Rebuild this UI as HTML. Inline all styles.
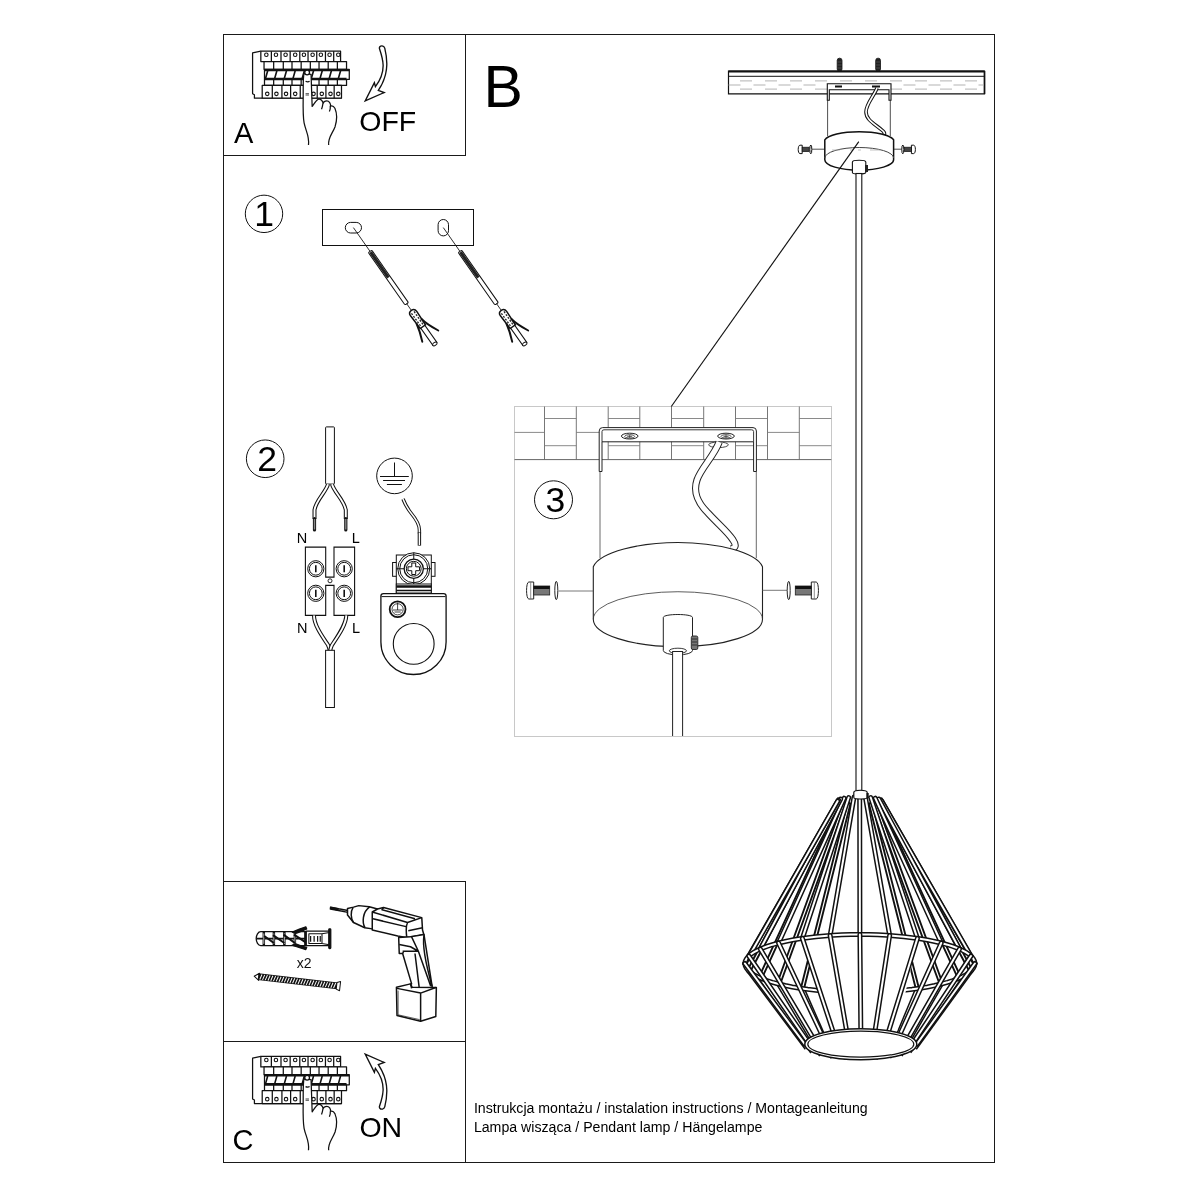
<!DOCTYPE html>
<html><head><meta charset="utf-8"><style>
html,body{margin:0;padding:0;background:#fff;}
svg{display:block;will-change:transform;}
</style></head><body>
<svg width="1200" height="1200" viewBox="0 0 1200 1200">
<g stroke="#1a1a1a" stroke-width="1" fill="none" shape-rendering="crispEdges">
<rect x="223.5" y="34.5" width="771" height="1128"/>
<path d="M223.5 155.5H465.5V34.5"/>
<path d="M223.5 881H465.5V1162"/>
<path d="M223.5 1041.5H465.5"/>
</g>
<g fill="#000" style="font-family:'Liberation Sans',sans-serif">
<text x="234.1" y="142.8" font-size="29">A</text>
<text x="359.3" y="130.9" font-size="28.5">OFF</text>
<text x="483.4" y="106.8" font-size="59">B</text>
<text x="232.5" y="1149.8" font-size="29">C</text>
<text x="359.4" y="1137" font-size="28.5">ON</text>
<text x="254.2" y="225.8" font-size="35.5">1</text>
<text x="257.2" y="470.6" font-size="35.5">2</text>
<text x="545.4" y="512.2" font-size="35.5">3</text>
<text x="296.7" y="543" font-size="14.5">N</text>
<text x="351.8" y="543" font-size="14.5">L</text>
<text x="297.1" y="633.3" font-size="14.5">N</text>
<text x="352.1" y="633.3" font-size="14.5">L</text>
<text x="473.9" y="1112.9" font-size="14.15">Instrukcja montażu / instalation instructions / Montageanleitung</text>
<text x="473.9" y="1131.5" font-size="14.15">Lampa wisząca / Pendant lamp / Hängelampe</text>
</g>
<g stroke="#111" stroke-width="1" fill="none">
<circle cx="264" cy="213.85" r="18.7"/>
<circle cx="265.2" cy="458.75" r="18.8"/>
<circle cx="553.5" cy="499.8" r="19"/>
</g>
<g id="brk" transform="translate(248,46) scale(0.09166)" fill="none" stroke="#111" stroke-width="13.64" stroke-linejoin="round">
<path d="M140 56 L50 75 V520 L70 532 V570 H1020" fill="#fff"/>
<rect x="140" y="56" width="870" height="114" fill="#fff"/>
<path d="M255 56V170 M360 56V170 M460 56V170 M565 56V170 M655 56V170 M750 56V170 M845 56V170 M935 56V170"/>
<circle cx="200" cy="95" r="19" stroke-width="12.0"/>
<circle cx="305" cy="95" r="19" stroke-width="12.0"/>
<circle cx="410" cy="95" r="19" stroke-width="12.0"/>
<circle cx="515" cy="95" r="19" stroke-width="12.0"/>
<circle cx="610" cy="95" r="19" stroke-width="12.0"/>
<circle cx="705" cy="95" r="19" stroke-width="12.0"/>
<circle cx="795" cy="95" r="19" stroke-width="12.0"/>
<circle cx="890" cy="95" r="19" stroke-width="12.0"/>
<circle cx="985" cy="95" r="19" stroke-width="12.0"/>
<rect x="175" y="170" width="900" height="85" fill="#fff"/>
<path d="M280 170V255 M385 170V255 M480 170V255 M580 170V255 M680 170V255 M775 170V255 M875 170V255 M975 170V255"/>
<rect x="180" y="255" width="925" height="110" fill="#fff"/>
<path d="M180 265H1105" stroke-width="21.8"/>
<path d="M190 358 L215 270 M290 358 L315 270 M395 358 L420 270 M490 358 L515 270 M590 358 L615 270 M690 358 L715 270 M785 358 L810 270 M885 358 L910 270 M985 358 L1010 270" stroke-width="17.5"/>
<path d="M180 362H1075" stroke-width="32.7"/>
<rect x="180" y="368" width="895" height="62" fill="#fff"/>
<path d="M280 368V430 M385 368V430 M480 368V430 M580 368V430 M680 368V430 M775 368V430 M875 368V430 M975 368V430"/>
<rect x="155" y="430" width="865" height="140" fill="#fff"/>
<path d="M265 430V570 M370 430V570 M465 430V570 M570 430V570 M660 430V570 M755 430V570 M850 430V570 M940 430V570"/>
<circle cx="210" cy="522" r="19" stroke-width="12.0"/>
<circle cx="310" cy="522" r="19" stroke-width="12.0"/>
<circle cx="415" cy="522" r="19" stroke-width="12.0"/>
<circle cx="515" cy="522" r="19" stroke-width="12.0"/>
<circle cx="715" cy="522" r="19" stroke-width="12.0"/>
<circle cx="805" cy="522" r="19" stroke-width="12.0"/>
<circle cx="900" cy="522" r="19" stroke-width="12.0"/>
<circle cx="985" cy="522" r="19" stroke-width="12.0"/>
<path d="M660 1080 C672 980 630 930 612 840 C600 780 600 700 602 560 C603 420 600 330 612 300 L688 310 L700 660 C735 610 750 585 770 580 C795 575 815 600 820 625 C825 610 840 600 860 600 C885 600 905 630 900 655 C915 650 935 655 948 680 C965 720 975 800 950 880 C920 960 870 1000 880 1080 Z" fill="#fff" stroke="none"/>
<path d="M660 1080 C672 980 630 930 612 840 C600 780 600 700 602 560 C603 420 600 330 612 300 L688 310 L700 660 C735 610 750 585 770 580 C795 575 815 600 820 625 C825 610 840 600 860 600 C885 600 905 630 900 655 C915 650 935 655 948 680 C965 720 975 800 950 880 C920 960 870 1000 880 1080"/>
<path d="M818 625 C814 650 810 670 802 690 M898 655 C900 680 895 700 888 715"/>
<path d="M628 385 C645 393 660 393 672 385"/>
<path d="M628 520 H665 M628 535 H665" stroke-width="8"/>
<circle cx="645" cy="288" r="26" fill="#fff" stroke-width="14.2"/>
</g>
<use href="#brk" transform="translate(0,1005.3)"/>

<g transform="translate(355,40) scale(0.05834)" fill="#fff" stroke="#111" stroke-width="23.1" stroke-linejoin="miter"><path d="M460 100 C430 100 412 125 420 150 C450 240 480 330 482 430 C485 560 440 680 350 800 L332 730 L175 1045 L500 900 L400 865 C470 760 540 620 545 430 C548 300 530 220 510 140 C502 112 485 100 460 100 Z"/></g>
<g transform="translate(355,1115) scale(0.05834,-0.05834)" fill="#fff" stroke="#111" stroke-width="23.1" stroke-linejoin="miter"><path d="M460 100 C430 100 412 125 420 150 C450 240 480 330 482 430 C485 560 440 680 350 800 L332 730 L175 1045 L500 900 L400 865 C470 760 540 620 545 430 C548 300 530 220 510 140 C502 112 485 100 460 100 Z"/></g>

<g fill="none" stroke="#111" stroke-width="1">
<rect x="322.5" y="209.5" width="151" height="36"/>
<rect x="345.3" y="222.4" width="16.2" height="10.6" rx="5.3"/>
<rect x="438.1" y="219.5" width="10.4" height="16.4" rx="5.2"/>
</g>
<g transform="translate(353.4,227.6) rotate(55.00)" stroke="#111" fill="#fff">
<path d="M0 0H29" stroke-width="0.8"/>
<rect x="29" y="-2.1" width="64" height="4.2" rx="1.2" stroke-width="1"/>
<rect x="30" y="-1.6" width="31" height="3.2" fill="#222" stroke="none"/>
<path d="M93 0H100.5" stroke-width="0.8"/>
<rect x="120" y="-2.5" width="22" height="5" stroke-width="1.1"/>
<ellipse cx="142" cy="0" rx="1.5" ry="2.5" stroke-width="1"/>
<path d="M101 0 Q101 -3.8 105 -3.8 L121 -3.2 L121 3.2 L105 3.8 Q101 3.8 101 0 Z" fill="#fff" stroke-width="1.5"/>
<path d="M103.5 -1.6 L120 -1.4 M103.5 1.6 L120 1.4" stroke="#222" stroke-width="1.3" stroke-dasharray="2 1.4"/>
<path d="M114 -3.4 C121 -4.5 127 -7.5 133 -10.5 M115 3.4 C121 4.5 127 6.5 133 9" stroke-width="1.9" fill="none" stroke-linecap="round"/>
</g>
<g transform="translate(443.3,227.6) rotate(55.00)" stroke="#111" fill="#fff">
<path d="M0 0H29" stroke-width="0.8"/>
<rect x="29" y="-2.1" width="64" height="4.2" rx="1.2" stroke-width="1"/>
<rect x="30" y="-1.6" width="31" height="3.2" fill="#222" stroke="none"/>
<path d="M93 0H100.5" stroke-width="0.8"/>
<rect x="120" y="-2.5" width="22" height="5" stroke-width="1.1"/>
<ellipse cx="142" cy="0" rx="1.5" ry="2.5" stroke-width="1"/>
<path d="M101 0 Q101 -3.8 105 -3.8 L121 -3.2 L121 3.2 L105 3.8 Q101 3.8 101 0 Z" fill="#fff" stroke-width="1.5"/>
<path d="M103.5 -1.6 L120 -1.4 M103.5 1.6 L120 1.4" stroke="#222" stroke-width="1.3" stroke-dasharray="2 1.4"/>
<path d="M114 -3.4 C121 -4.5 127 -7.5 133 -10.5 M115 3.4 C121 4.5 127 6.5 133 9" stroke-width="1.9" fill="none" stroke-linecap="round"/>
</g>

<g>
<rect x="325.6" y="426.9" width="8.8" height="57.2" rx="0.8" fill="#fff" stroke="#111" stroke-width="1"/>
<path d="M328 484.3 C326 492 316 500 314.5 510 V519" stroke="#111" stroke-width="4.0" fill="none"/><path d="M328 484.3 C326 492 316 500 314.5 510 V519" stroke="#fff" stroke-width="1.9" fill="none"/>
<path d="M332 484.3 C334 492 344 500 345.8 510 V519" stroke="#111" stroke-width="4.0" fill="none"/><path d="M332 484.3 C334 492 344 500 345.8 510 V519" stroke="#fff" stroke-width="1.9" fill="none"/>
<path d="M314.5 518.5 V530" stroke="#111" stroke-width="3.2" stroke-linecap="round"/><path d="M314.5 519 V529.5" stroke="#888" stroke-width="1.4"/>
<path d="M345.8 518.5 V530" stroke="#111" stroke-width="3.2" stroke-linecap="round"/><path d="M345.8 519 V529.5" stroke="#888" stroke-width="1.4"/>
<path d="M305.4 547.1 H325.7 V577.1 H334 V547.1 H354.6 V615.4 H334 V585.4 H325.7 V615.4 H305.4 Z" fill="#fff" stroke="#111" stroke-width="1.1"/>
<circle cx="330" cy="580.8" r="2" fill="none" stroke="#111" stroke-width="0.9"/>
<circle cx="315.8" cy="568.75" r="8.1" fill="#fff" stroke="#111" stroke-width="1"/>
<circle cx="315.8" cy="568.75" r="6.4" fill="none" stroke="#111" stroke-width="1"/>
<path d="M315.8 565.15 V572.35" stroke="#111" stroke-width="1.6"/>
<circle cx="344.2" cy="568.75" r="8.1" fill="#fff" stroke="#111" stroke-width="1"/>
<circle cx="344.2" cy="568.75" r="6.4" fill="none" stroke="#111" stroke-width="1"/>
<path d="M344.2 565.15 V572.35" stroke="#111" stroke-width="1.6"/>
<circle cx="315.8" cy="593.3" r="8.1" fill="#fff" stroke="#111" stroke-width="1"/>
<circle cx="315.8" cy="593.3" r="6.4" fill="none" stroke="#111" stroke-width="1"/>
<path d="M315.8 589.6999999999999 V596.9" stroke="#111" stroke-width="1.6"/>
<circle cx="344.2" cy="593.3" r="8.1" fill="#fff" stroke="#111" stroke-width="1"/>
<circle cx="344.2" cy="593.3" r="6.4" fill="none" stroke="#111" stroke-width="1"/>
<path d="M344.2 589.6999999999999 V596.9" stroke="#111" stroke-width="1.6"/>
<path d="M314 615.4 C314 625 322 636 328 645 C329 647 329.5 649 329.8 650.5" stroke="#111" stroke-width="4.0" fill="none"/><path d="M314 615.4 C314 625 322 636 328 645 C329 647 329.5 649 329.8 650.5" stroke="#fff" stroke-width="1.9" fill="none"/>
<path d="M346.3 615.4 C346 625 338 636 332 645 C331 647 330.5 649 330.2 650.5" stroke="#111" stroke-width="4.0" fill="none"/><path d="M346.3 615.4 C346 625 338 636 332 645 C331 647 330.5 649 330.2 650.5" stroke="#fff" stroke-width="1.9" fill="none"/>
<rect x="325.6" y="650.3" width="8.8" height="57.2" fill="#fff" stroke="#111" stroke-width="1"/>
<circle cx="394.5" cy="475.9" r="17.8" fill="none" stroke="#111" stroke-width="1"/>
<path d="M394.5 462.5 V476.5 M380 476.5 H408.8 M383.1 480.5 H405 M386.9 484.5 H401.9" stroke="#111" stroke-width="1" fill="none"/>
<path d="M403 499 C405 504 407 508 411 513 C416 519 419.4 524 419.4 530 V533.5" stroke="#111" stroke-width="3.4" fill="none"/><path d="M403 499 C405 504 407 508 411 513 C416 519 419.4 524 419.4 530 V533.5" stroke="#fff" stroke-width="1.5" fill="none"/>
<path d="M419.4 532.5 V545.6" stroke="#111" stroke-width="3.4"/><path d="M419.4 533 V545" stroke="#fff" stroke-width="1.4"/>
<g stroke="#111" fill="#fff" stroke-width="1">
<rect x="392.6" y="562.5" width="42.4" height="13.8"/>
<rect x="396.3" y="555" width="35" height="38"/>
<circle cx="413.75" cy="568.75" r="16"/>
<circle cx="413.75" cy="568.75" r="14"/>
<path d="M413.75 552.5 V586 M396.3 568.75 H431.2" fill="none"/>
<circle cx="413.75" cy="568.75" r="9.6" stroke-width="1.3"/>
<circle cx="413.75" cy="568.75" r="7.4"/>
<path d="M411.8 563 h3.9 v3.8 h3.8 v3.9 h-3.8 v3.8 h-3.9 v-3.8 h-3.8 v-3.9 h3.8 Z" stroke-width="1"/>
<rect x="396.3" y="584" width="35" height="9" fill="#fff"/>
<path d="M396.3 586.5 H431.2" stroke-width="2.4"/>
<path d="M396.3 590.5 H431.2" stroke-width="1.4"/>
</g>
<path d="M383.5 593.6 H443.6 Q446.1 593.6 446.1 596 V641.9 A32.6 32.6 0 0 1 380.9 641.9 V596 Q380.9 593.6 383.5 593.6 Z" fill="#fff" stroke="#111" stroke-width="1.3"/>
<path d="M381.5 596.6 H445.5" stroke="#111" stroke-width="1"/>
<circle cx="413.7" cy="643.9" r="20.4" fill="none" stroke="#111" stroke-width="1.1"/>
<circle cx="397.6" cy="609.3" r="7.9" fill="none" stroke="#111" stroke-width="1.8"/>
<circle cx="397.6" cy="609.3" r="5.6" fill="none" stroke="#111" stroke-width="0.8"/>
<path d="M397.6 602.5 V610 M393 610 H402.2 M394.5 612 H400.7" stroke="#111" stroke-width="0.8" fill="none"/>
</g>

<rect x="514.5" y="406.5" width="317" height="330" fill="none" stroke="#c8c8c8" stroke-width="1"/>
<path d="M514.5 432.4H544.5 M544.5 418.5H576.3 M544.5 445.7H576.3 M576.3 432.4H608.2 M608.2 418.5H639.8 M608.2 445.7H639.8 M639.8 432.4H671.5 M671.5 418.5H703.7 M671.5 445.7H703.7 M703.7 432.4H735.5 M735.5 418.5H767.5 M735.5 445.7H767.5 M767.5 432.4H799.3 M799.3 418.5H831.3 M799.3 445.7H831.3" stroke="#8a8a8a" stroke-width="1" fill="none"/>
<path d="M544.5 406.5V459.6 M576.3 406.5V459.6 M608.2 406.5V459.6 M639.8 406.5V459.6 M671.5 406.5V459.6 M703.7 406.5V459.6 M735.5 406.5V459.6 M767.5 406.5V459.6 M799.3 406.5V459.6" stroke="#777" stroke-width="1" fill="none"/>
<path d="M514.5 459.6H831.3" stroke="#666" stroke-width="1" fill="none"/>
<path d="M600 460V558 M756.3 460V558" stroke="#444" stroke-width="0.8" fill="none"/>
<path d="M599.2 471.5 V431 Q599.2 427.6 602.6 427.6 H753 Q756.4 427.6 756.4 431 V471.5 H753.6 V441.8 H602 V471.5 Z" fill="#fff" stroke="#222" stroke-width="1"/>
<path d="M602 441.8 V431.5 Q602 429.8 604 429.8 H751.6 Q753.6 429.8 753.6 431.5 V441.8" fill="none" stroke="#222" stroke-width="0.9"/>
<ellipse cx="629.7" cy="436.1" rx="8.3" ry="2.9" fill="#fff" stroke="#222" stroke-width="1"/>
<ellipse cx="629.7" cy="436.4" rx="5" ry="1.7" fill="none" stroke="#222" stroke-width="0.8"/>
<path d="M627.2 436.4H632.2 M629.7 434.8V438" stroke="#222" stroke-width="0.7"/>
<ellipse cx="726" cy="436.1" rx="8.3" ry="2.9" fill="#fff" stroke="#222" stroke-width="1"/>
<ellipse cx="726" cy="436.4" rx="5" ry="1.7" fill="none" stroke="#222" stroke-width="0.8"/>
<path d="M723.5 436.4H728.5 M726 434.8V438" stroke="#222" stroke-width="0.7"/>
<ellipse cx="718.5" cy="444.8" rx="9.8" ry="2.8" fill="#fff" stroke="#333" stroke-width="0.9"/>
<path d="M719.2 442 C714 456 701 468 697 480 C693 492 697 502 708 513 C718 524 728 532 733 540 C737 546 735 548 731 549" stroke="#222" stroke-width="7.2" fill="none"/>
<path d="M719.2 442 C714 456 701 468 697 480 C693 492 697 502 708 513 C718 524 728 532 733 540 C737 546 735 548 731 549" stroke="#fff" stroke-width="5.2" fill="none"/>
<path d="M593.3 566.7 C600 552 640 542.5 677.9 542.5 C716 542.5 756 552 762.5 566.7 V619.2 A84.6 27.5 0 0 1 593.3 619.2 Z" fill="#fff" stroke="#222" stroke-width="1.1"/>
<path d="M593.3 619.2 A84.6 27.5 0 0 1 762.5 619.2" fill="none" stroke="#333" stroke-width="0.8"/>
<path d="M558.5 591 H593.3 M762.3 590.3 H787" stroke="#555" stroke-width="0.8" fill="none"/>
<g transform="translate(526.3,590.5) scale(1,1)"><path d="M7.4 -8.5 H2.5 C-0.5 -8.5 -0.5 8.5 2.5 8.5 H7.4 Z" fill="#fff" stroke="#222" stroke-width="1"/><path d="M4.4 -8 V8" stroke="#444" stroke-width="0.6"/><rect x="7.4" y="-4.5" width="16" height="9" fill="#777" stroke="#222" stroke-width="0.8"/><rect x="7.4" y="-4.5" width="16" height="3" fill="#111"/><ellipse cx="30" cy="0" rx="1.5" ry="9.2" fill="#fff" stroke="#222" stroke-width="1"/></g>
<g transform="translate(818.7,590.5) scale(-1,1)"><path d="M7.4 -8.5 H2.5 C-0.5 -8.5 -0.5 8.5 2.5 8.5 H7.4 Z" fill="#fff" stroke="#222" stroke-width="1"/><path d="M4.4 -8 V8" stroke="#444" stroke-width="0.6"/><rect x="7.4" y="-4.5" width="16" height="9" fill="#777" stroke="#222" stroke-width="0.8"/><rect x="7.4" y="-4.5" width="16" height="3" fill="#111"/><ellipse cx="30" cy="0" rx="1.5" ry="9.2" fill="#fff" stroke="#222" stroke-width="1"/></g>
<path d="M663.3 617.5 C663.3 613.5 692.5 613.5 692.5 617.5 V650.5 A14.6 4.4 0 0 1 663.3 650.5 Z" fill="#fff" stroke="#222" stroke-width="1"/>
<ellipse cx="677.9" cy="650.8" rx="8.6" ry="2.6" fill="none" stroke="#222" stroke-width="0.9"/>
<rect x="691.3" y="636" width="6.5" height="13.5" rx="1.5" fill="#777" stroke="#222" stroke-width="0.9"/>
<path d="M692 639h5 M692 642h5 M692 645h5" stroke="#111" stroke-width="0.7"/>
<rect x="672.6" y="651.5" width="10" height="85" fill="#fff" stroke="#222" stroke-width="1"/>
<path d="M514.5 736.5 H831.5" stroke="#c8c8c8" stroke-width="1"/>

<path d="M728.5 71.2 H984.5 V93.8 H728.5 Z" fill="#fff" stroke="#111" stroke-width="1.2"/>
<path d="M728.5 71.5 H984.5" stroke="#111" stroke-width="2"/>
<path d="M728.5 76.3 H984.5" stroke="#111" stroke-width="1"/>
<path d="M984.5 71 V94" stroke="#111" stroke-width="1.6"/>
<path d="M740 80.9 H984 M728.5 85 H984 M740 89.1 H984" stroke="#aaa" stroke-width="0.9" stroke-dasharray="12 13" fill="none"/>
<rect x="837.2" y="58.2" width="4.8" height="13" rx="2.2" fill="#222" stroke="#111" stroke-width="0.8"/>
<path d="M837.6 62h4 M837.6 65h4 M837.6 68h4" stroke="#666" stroke-width="0.6"/>
<rect x="875.7" y="58.2" width="4.8" height="13" rx="2.2" fill="#222" stroke="#111" stroke-width="0.8"/>
<path d="M876.1 62h4 M876.1 65h4 M876.1 68h4" stroke="#666" stroke-width="0.6"/>
<path d="M827.3 100.2 V83.8 H891 V100.2 H889 V89.7 H829.3 V100.2 Z" fill="#fff" stroke="#111" stroke-width="1.1"/>
<path d="M835 86.5 h7 M872 86.5 h8" stroke="#111" stroke-width="2"/>
<path d="M827.6 100 V136.3 M890.3 100 V136.3" stroke="#222" stroke-width="0.8" fill="none"/>
<path d="M877 88 C874 96 866 104 866 112 C866 120 875 124 883 131 C886 134 884 136 880 136" stroke="#111" stroke-width="3.6" fill="none"/><path d="M877 88 C874 96 866 104 866 112 C866 120 875 124 883 131 C886 134 884 136 880 136" stroke="#fff" stroke-width="1.6" fill="none"/>
<path d="M824.8 139.8 C828 135 842 131.7 859.2 131.7 C876 131.7 890 135 893.6 139.8 V159.7 A34.4 10.5 0 0 1 824.8 159.7 Z" fill="#fff" stroke="#111" stroke-width="1.5"/>
<path d="M824.8 158 A34.4 10.5 0 0 1 893.6 158" fill="none" stroke="#444" stroke-width="1"/>
<path d="M832 150 h8 M850 150 h3 M858 150 h3 M870 150 h10" stroke="#aaa" stroke-width="0.7"/>
<path d="M811.6 149.2 H824.8 M893.6 149.2 H902" stroke="#222" stroke-width="0.8"/>
<g transform="translate(798.2,149.4) scale(1,1)"><path d="M4 -4.2 H1.8 C-0.6 -4.2 -0.6 4.2 1.8 4.2 H4 Z" fill="#fff" stroke="#111" stroke-width="1"/><rect x="4" y="-2.2" width="7" height="4.4" fill="#444" stroke="#111" stroke-width="0.7"/><ellipse cx="12.6" cy="0" rx="1" ry="4.4" fill="#fff" stroke="#111" stroke-width="1"/></g>
<g transform="translate(915.4,149.4) scale(-1,1)"><path d="M4 -4.2 H1.8 C-0.6 -4.2 -0.6 4.2 1.8 4.2 H4 Z" fill="#fff" stroke="#111" stroke-width="1"/><rect x="4" y="-2.2" width="7" height="4.4" fill="#444" stroke="#111" stroke-width="0.7"/><ellipse cx="12.6" cy="0" rx="1" ry="4.4" fill="#fff" stroke="#111" stroke-width="1"/></g>
<path d="M852.4 162 C852.4 159.6 865.8 159.6 865.8 162 V172.5 A6.7 1.6 0 0 1 852.4 172.5 Z" fill="#fff" stroke="#111" stroke-width="1.1"/>
<rect x="865" y="165" width="3" height="7" fill="#222"/>
<rect x="856" y="173.5" width="5.8" height="617" fill="#fff" stroke="#111" stroke-width="1.1"/>

<defs><mask id="farmask" maskUnits="userSpaceOnUse" x="700" y="760" width="320" height="320"><rect x="700" y="760" width="320" height="320" fill="#fff"/><path d="M917.40 938.39 L908.50 937.22 L899.23 936.25 L889.66 935.49 L879.87 934.94 L869.92 934.61 L859.90 934.50 L849.88 934.61 L839.93 934.94 L830.14 935.49 L820.57 936.25 L811.30 937.22 L802.40 938.39 L832.80 1030.78 L824.80 1032.33 L817.90 1034.24 L812.30 1036.45 L808.18 1038.90 L805.65 1041.51 L804.80 1044.20 L805.65 1046.89 L808.18 1049.50 L812.30 1051.95 L817.90 1054.16 L824.80 1056.07 L832.80 1057.62 L841.65 1058.77 L851.08 1059.46 L860.80 1059.70 L870.52 1059.46 L879.95 1058.77 L888.80 1057.62 L896.80 1056.07 L903.70 1054.16 L909.30 1051.95 L913.42 1049.50 L915.95 1046.89 L916.80 1044.20 L915.95 1041.51 L913.42 1038.90 L909.30 1036.45 L903.70 1034.24 L896.80 1032.33 Z" fill="#000"/></mask></defs>
<g mask="url(#farmask)">
<path d="M838.45 802.04L748.82 971.01" stroke="#111" stroke-width="5.0" fill="none" stroke-linecap="round"/><path d="M838.45 802.04L748.82 971.01" stroke="#fff" stroke-width="1.2" fill="none" stroke-linecap="round"/>
<path d="M840.65 803.00L760.31 978.00" stroke="#111" stroke-width="5.0" fill="none" stroke-linecap="round"/><path d="M840.65 803.00L760.31 978.00" stroke="#fff" stroke-width="1.2" fill="none" stroke-linecap="round"/>
<path d="M844.14 803.83L778.58 984.01" stroke="#111" stroke-width="5.0" fill="none" stroke-linecap="round"/><path d="M844.14 803.83L778.58 984.01" stroke="#fff" stroke-width="1.2" fill="none" stroke-linecap="round"/>
<path d="M848.70 804.46L802.40 988.61" stroke="#111" stroke-width="5.0" fill="none" stroke-linecap="round"/><path d="M848.70 804.46L802.40 988.61" stroke="#fff" stroke-width="1.2" fill="none" stroke-linecap="round"/>
<path d="M870.70 804.46L917.40 988.61" stroke="#111" stroke-width="5.0" fill="none" stroke-linecap="round"/><path d="M870.70 804.46L917.40 988.61" stroke="#fff" stroke-width="1.2" fill="none" stroke-linecap="round"/>
<path d="M875.26 803.83L941.22 984.01" stroke="#111" stroke-width="5.0" fill="none" stroke-linecap="round"/><path d="M875.26 803.83L941.22 984.01" stroke="#fff" stroke-width="1.2" fill="none" stroke-linecap="round"/>
<path d="M878.75 803.00L959.49 978.00" stroke="#111" stroke-width="5.0" fill="none" stroke-linecap="round"/><path d="M878.75 803.00L959.49 978.00" stroke="#fff" stroke-width="1.2" fill="none" stroke-linecap="round"/>
<path d="M880.95 802.04L970.98 971.01" stroke="#111" stroke-width="5.0" fill="none" stroke-linecap="round"/><path d="M880.95 802.04L970.98 971.01" stroke="#fff" stroke-width="1.2" fill="none" stroke-linecap="round"/>
<path d="M748.82 971.01L806.71 1048.21" stroke="#111" stroke-width="5.0" fill="none" stroke-linecap="butt"/><path d="M748.82 971.01L806.71 1048.21" stroke="#fff" stroke-width="2.0" fill="none" stroke-linecap="butt"/>
<path d="M760.31 978.00L812.30 1051.95" stroke="#111" stroke-width="5.0" fill="none" stroke-linecap="butt"/><path d="M760.31 978.00L812.30 1051.95" stroke="#fff" stroke-width="2.0" fill="none" stroke-linecap="butt"/>
<path d="M778.58 984.01L821.20 1055.16" stroke="#111" stroke-width="5.0" fill="none" stroke-linecap="butt"/><path d="M778.58 984.01L821.20 1055.16" stroke="#fff" stroke-width="2.0" fill="none" stroke-linecap="butt"/>
<path d="M802.40 988.61L832.80 1057.62" stroke="#111" stroke-width="5.0" fill="none" stroke-linecap="butt"/><path d="M802.40 988.61L832.80 1057.62" stroke="#fff" stroke-width="2.0" fill="none" stroke-linecap="butt"/>
<path d="M830.14 991.51L846.31 1059.17" stroke="#111" stroke-width="5.0" fill="none" stroke-linecap="butt"/><path d="M830.14 991.51L846.31 1059.17" stroke="#fff" stroke-width="2.0" fill="none" stroke-linecap="butt"/>
<path d="M859.90 992.50L860.80 1059.70" stroke="#111" stroke-width="5.0" fill="none" stroke-linecap="butt"/><path d="M859.90 992.50L860.80 1059.70" stroke="#fff" stroke-width="2.0" fill="none" stroke-linecap="butt"/>
<path d="M889.66 991.51L875.29 1059.17" stroke="#111" stroke-width="5.0" fill="none" stroke-linecap="butt"/><path d="M889.66 991.51L875.29 1059.17" stroke="#fff" stroke-width="2.0" fill="none" stroke-linecap="butt"/>
<path d="M917.40 988.61L888.80 1057.62" stroke="#111" stroke-width="5.0" fill="none" stroke-linecap="butt"/><path d="M917.40 988.61L888.80 1057.62" stroke="#fff" stroke-width="2.0" fill="none" stroke-linecap="butt"/>
<path d="M941.22 984.01L900.40 1055.16" stroke="#111" stroke-width="5.0" fill="none" stroke-linecap="butt"/><path d="M941.22 984.01L900.40 1055.16" stroke="#fff" stroke-width="2.0" fill="none" stroke-linecap="butt"/>
<path d="M959.49 978.00L909.30 1051.95" stroke="#111" stroke-width="5.0" fill="none" stroke-linecap="butt"/><path d="M959.49 978.00L909.30 1051.95" stroke="#fff" stroke-width="2.0" fill="none" stroke-linecap="butt"/>
<path d="M970.98 971.01L914.89 1048.21" stroke="#111" stroke-width="5.0" fill="none" stroke-linecap="butt"/><path d="M970.98 971.01L914.89 1048.21" stroke="#fff" stroke-width="2.0" fill="none" stroke-linecap="butt"/>
<path d="M744.90 963.50 L745.25 965.78 L746.32 968.04 L748.08 970.27 L750.53 972.46 L753.65 974.60 L757.43 976.67 L761.85 978.65 L766.86 980.55 L772.45 982.33 L778.58 984.01 L785.21 985.55 L792.30 986.96 L799.81 988.23 L807.69 989.34 L815.89 990.29 L824.36 991.08 L833.05 991.70 L841.91 992.14 L850.88 992.41 L859.90 992.50 L868.92 992.41 L877.89 992.14 L886.75 991.70 L895.44 991.08 L903.91 990.29 L912.11 989.34 L919.99 988.23 L927.50 986.96 L934.59 985.55 L941.22 984.01 L947.35 982.33 L952.94 980.55 L957.95 978.65 L962.37 976.67 L966.15 974.60 L969.27 972.46 L971.72 970.27 L973.48 968.04 L974.55 965.78 L974.90 963.50" stroke="#111" stroke-width="5.0" fill="none" stroke-linecap="round"/><path d="M744.90 963.50 L745.25 965.78 L746.32 968.04 L748.08 970.27 L750.53 972.46 L753.65 974.60 L757.43 976.67 L761.85 978.65 L766.86 980.55 L772.45 982.33 L778.58 984.01 L785.21 985.55 L792.30 986.96 L799.81 988.23 L807.69 989.34 L815.89 990.29 L824.36 991.08 L833.05 991.70 L841.91 992.14 L850.88 992.41 L859.90 992.50 L868.92 992.41 L877.89 992.14 L886.75 991.70 L895.44 991.08 L903.91 990.29 L912.11 989.34 L919.99 988.23 L927.50 986.96 L934.59 985.55 L941.22 984.01 L947.35 982.33 L952.94 980.55 L957.95 978.65 L962.37 976.67 L966.15 974.60 L969.27 972.46 L971.72 970.27 L973.48 968.04 L974.55 965.78 L974.90 963.50" stroke="#fff" stroke-width="2.0" fill="none" stroke-linecap="round"/>
</g>
<path d="M881.70 801.00L974.90 963.50" stroke="#111" stroke-width="5.0" fill="none" stroke-linecap="round"/><path d="M881.70 801.00L974.90 963.50" stroke="#fff" stroke-width="2.0" fill="none" stroke-linecap="round"/>
<path d="M880.95 799.96L970.98 955.99" stroke="#111" stroke-width="5.0" fill="none" stroke-linecap="round"/><path d="M880.95 799.96L970.98 955.99" stroke="#fff" stroke-width="2.0" fill="none" stroke-linecap="round"/>
<path d="M878.75 799.00L959.49 949.00" stroke="#111" stroke-width="5.0" fill="none" stroke-linecap="round"/><path d="M878.75 799.00L959.49 949.00" stroke="#fff" stroke-width="2.0" fill="none" stroke-linecap="round"/>
<path d="M875.26 798.17L941.22 942.99" stroke="#111" stroke-width="5.0" fill="none" stroke-linecap="round"/><path d="M875.26 798.17L941.22 942.99" stroke="#fff" stroke-width="2.0" fill="none" stroke-linecap="round"/>
<path d="M870.70 797.54L917.40 938.39" stroke="#111" stroke-width="5.0" fill="none" stroke-linecap="round"/><path d="M870.70 797.54L917.40 938.39" stroke="#fff" stroke-width="2.0" fill="none" stroke-linecap="round"/>
<path d="M865.39 797.14L889.66 935.49" stroke="#111" stroke-width="5.0" fill="none" stroke-linecap="round"/><path d="M865.39 797.14L889.66 935.49" stroke="#fff" stroke-width="2.0" fill="none" stroke-linecap="round"/>
<path d="M859.70 797.00L859.90 934.50" stroke="#111" stroke-width="5.0" fill="none" stroke-linecap="round"/><path d="M859.70 797.00L859.90 934.50" stroke="#fff" stroke-width="2.0" fill="none" stroke-linecap="round"/>
<path d="M854.01 797.14L830.14 935.49" stroke="#111" stroke-width="5.0" fill="none" stroke-linecap="round"/><path d="M854.01 797.14L830.14 935.49" stroke="#fff" stroke-width="2.0" fill="none" stroke-linecap="round"/>
<path d="M848.70 797.54L802.40 938.39" stroke="#111" stroke-width="5.0" fill="none" stroke-linecap="round"/><path d="M848.70 797.54L802.40 938.39" stroke="#fff" stroke-width="2.0" fill="none" stroke-linecap="round"/>
<path d="M844.14 798.17L778.58 942.99" stroke="#111" stroke-width="5.0" fill="none" stroke-linecap="round"/><path d="M844.14 798.17L778.58 942.99" stroke="#fff" stroke-width="2.0" fill="none" stroke-linecap="round"/>
<path d="M840.65 799.00L760.31 949.00" stroke="#111" stroke-width="5.0" fill="none" stroke-linecap="round"/><path d="M840.65 799.00L760.31 949.00" stroke="#fff" stroke-width="2.0" fill="none" stroke-linecap="round"/>
<path d="M838.45 799.96L748.82 955.99" stroke="#111" stroke-width="5.0" fill="none" stroke-linecap="round"/><path d="M838.45 799.96L748.82 955.99" stroke="#fff" stroke-width="2.0" fill="none" stroke-linecap="round"/>
<path d="M837.70 801.00L744.90 963.50" stroke="#111" stroke-width="5.0" fill="none" stroke-linecap="round"/><path d="M837.70 801.00L744.90 963.50" stroke="#fff" stroke-width="2.0" fill="none" stroke-linecap="round"/>
<path d="M974.90 963.50 L974.55 961.22 L973.48 958.96 L971.72 956.73 L969.27 954.54 L966.15 952.40 L962.37 950.33 L957.95 948.35 L952.94 946.45 L947.35 944.67 L941.22 942.99 L934.59 941.45 L927.50 940.04 L919.99 938.77 L912.11 937.66 L903.91 936.71 L895.44 935.92 L886.75 935.30 L877.89 934.86 L868.92 934.59 L859.90 934.50 L850.88 934.59 L841.91 934.86 L833.05 935.30 L824.36 935.92 L815.89 936.71 L807.69 937.66 L799.81 938.77 L792.30 940.04 L785.21 941.45 L778.58 942.99 L772.45 944.67 L766.86 946.45 L761.85 948.35 L757.43 950.33 L753.65 952.40 L750.53 954.54 L748.08 956.73 L746.32 958.96 L745.25 961.22 L744.90 963.50" stroke="#111" stroke-width="5.0" fill="none" stroke-linecap="round"/><path d="M974.90 963.50 L974.55 961.22 L973.48 958.96 L971.72 956.73 L969.27 954.54 L966.15 952.40 L962.37 950.33 L957.95 948.35 L952.94 946.45 L947.35 944.67 L941.22 942.99 L934.59 941.45 L927.50 940.04 L919.99 938.77 L912.11 937.66 L903.91 936.71 L895.44 935.92 L886.75 935.30 L877.89 934.86 L868.92 934.59 L859.90 934.50 L850.88 934.59 L841.91 934.86 L833.05 935.30 L824.36 935.92 L815.89 936.71 L807.69 937.66 L799.81 938.77 L792.30 940.04 L785.21 941.45 L778.58 942.99 L772.45 944.67 L766.86 946.45 L761.85 948.35 L757.43 950.33 L753.65 952.40 L750.53 954.54 L748.08 956.73 L746.32 958.96 L745.25 961.22 L744.90 963.50" stroke="#fff" stroke-width="2.0" fill="none" stroke-linecap="round"/>
<path d="M974.90 963.50L916.80 1044.20" stroke="#111" stroke-width="5.0" fill="none" stroke-linecap="round"/><path d="M974.90 963.50L916.80 1044.20" stroke="#fff" stroke-width="2.0" fill="none" stroke-linecap="round"/>
<path d="M970.98 955.99L914.89 1040.19" stroke="#111" stroke-width="5.0" fill="none" stroke-linecap="round"/><path d="M970.98 955.99L914.89 1040.19" stroke="#fff" stroke-width="2.0" fill="none" stroke-linecap="round"/>
<path d="M959.49 949.00L909.30 1036.45" stroke="#111" stroke-width="5.0" fill="none" stroke-linecap="round"/><path d="M959.49 949.00L909.30 1036.45" stroke="#fff" stroke-width="2.0" fill="none" stroke-linecap="round"/>
<path d="M941.22 942.99L900.40 1033.24" stroke="#111" stroke-width="5.0" fill="none" stroke-linecap="round"/><path d="M941.22 942.99L900.40 1033.24" stroke="#fff" stroke-width="2.0" fill="none" stroke-linecap="round"/>
<path d="M917.40 938.39L888.80 1030.78" stroke="#111" stroke-width="5.0" fill="none" stroke-linecap="round"/><path d="M917.40 938.39L888.80 1030.78" stroke="#fff" stroke-width="2.0" fill="none" stroke-linecap="round"/>
<path d="M889.66 935.49L875.29 1029.23" stroke="#111" stroke-width="5.0" fill="none" stroke-linecap="round"/><path d="M889.66 935.49L875.29 1029.23" stroke="#fff" stroke-width="2.0" fill="none" stroke-linecap="round"/>
<path d="M859.90 934.50L860.80 1028.70" stroke="#111" stroke-width="5.0" fill="none" stroke-linecap="round"/><path d="M859.90 934.50L860.80 1028.70" stroke="#fff" stroke-width="2.0" fill="none" stroke-linecap="round"/>
<path d="M830.14 935.49L846.31 1029.23" stroke="#111" stroke-width="5.0" fill="none" stroke-linecap="round"/><path d="M830.14 935.49L846.31 1029.23" stroke="#fff" stroke-width="2.0" fill="none" stroke-linecap="round"/>
<path d="M802.40 938.39L832.80 1030.78" stroke="#111" stroke-width="5.0" fill="none" stroke-linecap="round"/><path d="M802.40 938.39L832.80 1030.78" stroke="#fff" stroke-width="2.0" fill="none" stroke-linecap="round"/>
<path d="M778.58 942.99L821.20 1033.24" stroke="#111" stroke-width="5.0" fill="none" stroke-linecap="round"/><path d="M778.58 942.99L821.20 1033.24" stroke="#fff" stroke-width="2.0" fill="none" stroke-linecap="round"/>
<path d="M760.31 949.00L812.30 1036.45" stroke="#111" stroke-width="5.0" fill="none" stroke-linecap="round"/><path d="M760.31 949.00L812.30 1036.45" stroke="#fff" stroke-width="2.0" fill="none" stroke-linecap="round"/>
<path d="M748.82 955.99L806.71 1040.19" stroke="#111" stroke-width="5.0" fill="none" stroke-linecap="round"/><path d="M748.82 955.99L806.71 1040.19" stroke="#fff" stroke-width="2.0" fill="none" stroke-linecap="round"/>
<path d="M744.90 963.50L804.80 1044.20" stroke="#111" stroke-width="5.0" fill="none" stroke-linecap="round"/><path d="M744.90 963.50L804.80 1044.20" stroke="#fff" stroke-width="2.0" fill="none" stroke-linecap="round"/>
<ellipse cx="860.8" cy="1044.2" rx="56.0" ry="15.5" fill="#fff" stroke="#111" stroke-width="1.5"/>
<ellipse cx="860.8" cy="1044.2" rx="53.0" ry="13.0" fill="none" stroke="#111" stroke-width="1.2"/>
<path d="M853.8 792.5 C853.8 789.5 867.2 789.5 867.2 792.5 V797.5 C867.2 799.5 853.8 799.5 853.8 797.5 Z" fill="#fff" stroke="#111" stroke-width="1.2"/>
<rect x="866.5" y="793" width="2.2" height="5" fill="#111"/>

<g transform="translate(245,915) scale(0.08749)" stroke="#111" stroke-width="14.9" fill="#fff" stroke-linejoin="round">
<path d="M180 190 H700 V350 H180 C150 350 128 310 128 270 C128 230 150 190 180 190 Z"/>
<path d="M130 270 H700" stroke-width="20"/>
<path d="M215 195V345 M330 195V345 M450 195V345 M570 195V345 M690 195V345" stroke-width="28" stroke="#111"/>
<path d="M215 210V330 M330 210V330 M450 210V330 M570 210V330" stroke-width="8" stroke="#fff"/>
<path d="M220 240 L330 320 M320 230 L450 320 M440 225 L570 320 M560 225 L690 310" stroke-width="24" stroke="#111"/>
<path d="M540 195 C600 170 650 150 695 135 L705 160 C660 180 620 200 580 210 Z" fill="#111"/>
<path d="M540 345 C600 365 650 385 695 395 L705 370 C660 360 620 345 580 330 Z" fill="#111"/>
<rect x="700" y="185" width="265" height="165"/>
<path d="M730 215 H880 V325 H730 Z M880 215 L965 200 M880 325 L965 340" stroke-width="12"/>
<path d="M750 240 V305 M790 240 V305 M830 240 V305 M860 240 V305" stroke-width="14"/>
<rect x="958" y="158" width="22" height="225" rx="8" fill="#111"/>
</g>
<text x="296.7" y="967.6" font-size="14" fill="#111" style="font-family:'Liberation Sans',sans-serif">x2</text>
<g transform="translate(258.1,976.7) rotate(6.6)" stroke="#111" fill="#fff" stroke-linejoin="round">
<path d="M-4 0 L1 -3.6 V3.6 Z" stroke-width="1"/>
<rect x="0" y="-3.4" width="80" height="6.8" fill="#111" stroke="none"/>
<path d="M2.00 2.6 L3.60 -2.6 M4.75 2.6 L6.35 -2.6 M7.50 2.6 L9.10 -2.6 M10.25 2.6 L11.85 -2.6 M13.00 2.6 L14.60 -2.6 M15.75 2.6 L17.35 -2.6 M18.50 2.6 L20.10 -2.6 M21.25 2.6 L22.85 -2.6 M24.00 2.6 L25.60 -2.6 M26.75 2.6 L28.35 -2.6 M29.50 2.6 L31.10 -2.6 M32.25 2.6 L33.85 -2.6 M35.00 2.6 L36.60 -2.6 M37.75 2.6 L39.35 -2.6 M40.50 2.6 L42.10 -2.6 M43.25 2.6 L44.85 -2.6 M46.00 2.6 L47.60 -2.6 M48.75 2.6 L50.35 -2.6 M51.50 2.6 L53.10 -2.6 M54.25 2.6 L55.85 -2.6 M57.00 2.6 L58.60 -2.6 M59.75 2.6 L61.35 -2.6 M62.50 2.6 L64.10 -2.6 M65.25 2.6 L66.85 -2.6 M68.00 2.6 L69.60 -2.6 M70.75 2.6 L72.35 -2.6 M73.50 2.6 L75.10 -2.6 M76.25 2.6 L77.85 -2.6" stroke="#fff" stroke-width="1"/>
<path d="M79 -3.4 L82.5 -4.6 V4.6 L79 3.4 Z" stroke-width="1"/>
</g>
<g transform="translate(340,900) scale(0.07502)" stroke="#111" stroke-width="20.0" fill="#fff" stroke-linejoin="round">
<path d="M-125 95 L-20 118 L105 140 L105 165 L-20 140 L-128 120 Z"/>
<path d="M-120 106 L-20 128" stroke-width="34"/>
<path d="M100 112 L180 95 L250 75 L390 90 L500 120 L500 390 L430 385 L330 370 L180 300 L100 200 Z"/>
<path d="M175 98 C140 150 140 250 182 302 M395 92 C300 160 290 300 335 372" fill="none"/>
<path d="M430 160 L500 120 L580 100 L1090 235 L1100 400 L1120 470 L880 500 L770 480 L430 400 Z"/>
<path d="M430 160 L900 300 L1090 235 M440 250 L880 355 M900 300 C880 340 880 420 890 500 M910 410 L1100 370 M950 500 L1110 460 M580 100 L560 130 L1000 250" fill="none"/>
</g>
<g transform="translate(325,895) scale(0.11249)" stroke="#111" stroke-width="13.3" fill="#fff" stroke-linejoin="round">
<path d="M655 378 L660 520 L690 520 L770 790 L740 800 L760 822 L955 830 L880 352 L760 372 Z"/>
<path d="M660 440 L760 460 L830 500 L690 500 M770 372 L830 500 L940 812 M800 520 L838 828 M880 360 C870 420 880 560 952 812 M690 520 L700 500" fill="none"/>
<path d="M635 820 L760 790 L775 820 L990 822 L985 1080 L850 1122 L640 1072 Z"/>
<path d="M640 830 L850 872 L985 822 M850 872 L850 1122 M760 790 L770 830" fill="none"/>
<path d="M650 850 V1065 L842 1108" fill="none" stroke-width="6"/>
</g>

<path d="M858.8 141.6 L671.3 406.5" stroke="#111" stroke-width="1.15" fill="none"/>

</svg>
</body></html>
